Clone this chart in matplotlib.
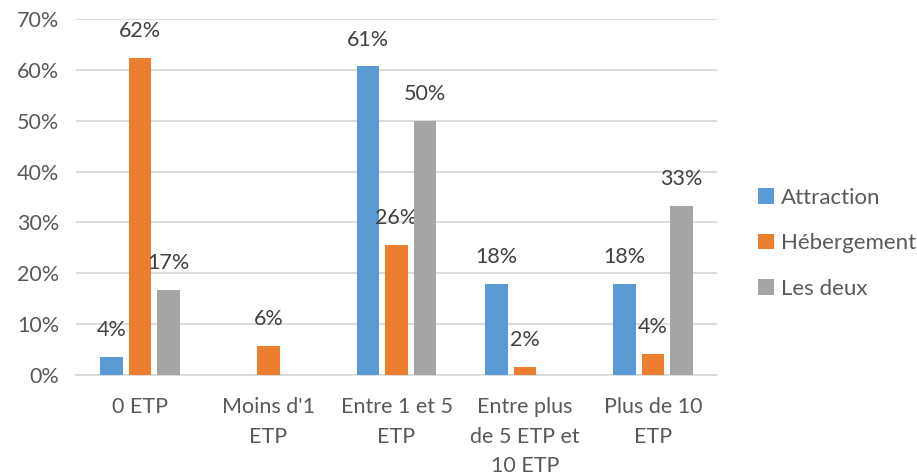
import numpy as np
import matplotlib
matplotlib.use("Agg")
import matplotlib.pyplot as plt
from matplotlib.patches import Patch

categories = ["0 ETP", "Moins d'1\nETP", "Entre 1 et 5\nETP",
              "Entre plus\nde 5 ETP et\n10 ETP", "Plus de 10\nETP"]
series_names = ["Attraction", "Hébergement", "Les deux"]
attraction = [3.6, np.nan, 60.7, 17.9, 17.9]
hebergement = [62.3, 5.8, 25.6, 1.6, 4.1]
les_deux = [16.7, np.nan, 50.0, np.nan, 33.3]
yticks = [0, 10, 20, 30, 40, 50, 60, 70]

colors = ["#5B9BD5", "#ED7D31", "#A5A5A5"]
text_color = "#595959"
label_color = "#404040"
grid_color = "#D9D9D9"

plt.rcParams["font.family"] = ["Lato", "DejaVu Sans"]
fs = 15.5

fig = plt.figure(figsize=(9.17, 4.75), dpi=100)
ax = fig.add_axes([0.0829, 0.2105, 0.782 - 0.0829, 0.96 - 0.2105])

x = np.arange(len(categories))
bar_w = 0.175
step = 0.222
for i, (name, vals, c) in enumerate(zip(series_names,
                                         [attraction, hebergement, les_deux],
                                         colors)):
    pos = x + (i - 1) * step
    ax.bar(pos, vals, width=bar_w, color=c, zorder=3, label=name)
    for xp, v in zip(pos, vals):
        if not np.isnan(v):
            ax.annotate(f"{v:.0f}%", (xp, v), xytext=(0, 12),
                        textcoords="offset points", ha="center", va="bottom",
                        fontsize=fs, color=label_color)

ax.set_xlim(-0.5, len(categories) - 0.5)
ax.set_ylim(0, 70)
ax.set_yticks(yticks)
ax.set_yticklabels([f"{t}%" for t in yticks])
ax.set_xticks(x)
ax.set_xticklabels(categories, linespacing=1.6)
ax.tick_params(axis="both", length=0, colors=text_color, labelsize=fs)
ax.tick_params(axis="x", pad=16)
ax.tick_params(axis="y", pad=12)
ax.yaxis.grid(True, color=grid_color, linewidth=1.3, zorder=0)
ax.set_axisbelow(True)
for s in ["top", "right", "left"]:
    ax.spines[s].set_visible(False)
ax.spines["bottom"].set_color(grid_color)
ax.spines["bottom"].set_linewidth(1.3)

handles = [Patch(facecolor=c, edgecolor="none") for c in colors]
fig.legend(handles, series_names, loc="center left",
           bbox_to_anchor=(0.8266, 0.488), frameon=False,
           handlelength=0.7, handleheight=0.7, handletextpad=0.35,
           labelspacing=1.15, borderpad=0, borderaxespad=0,
           fontsize=16, labelcolor=text_color)

fig.savefig("out.png", dpi=100, facecolor="white")
